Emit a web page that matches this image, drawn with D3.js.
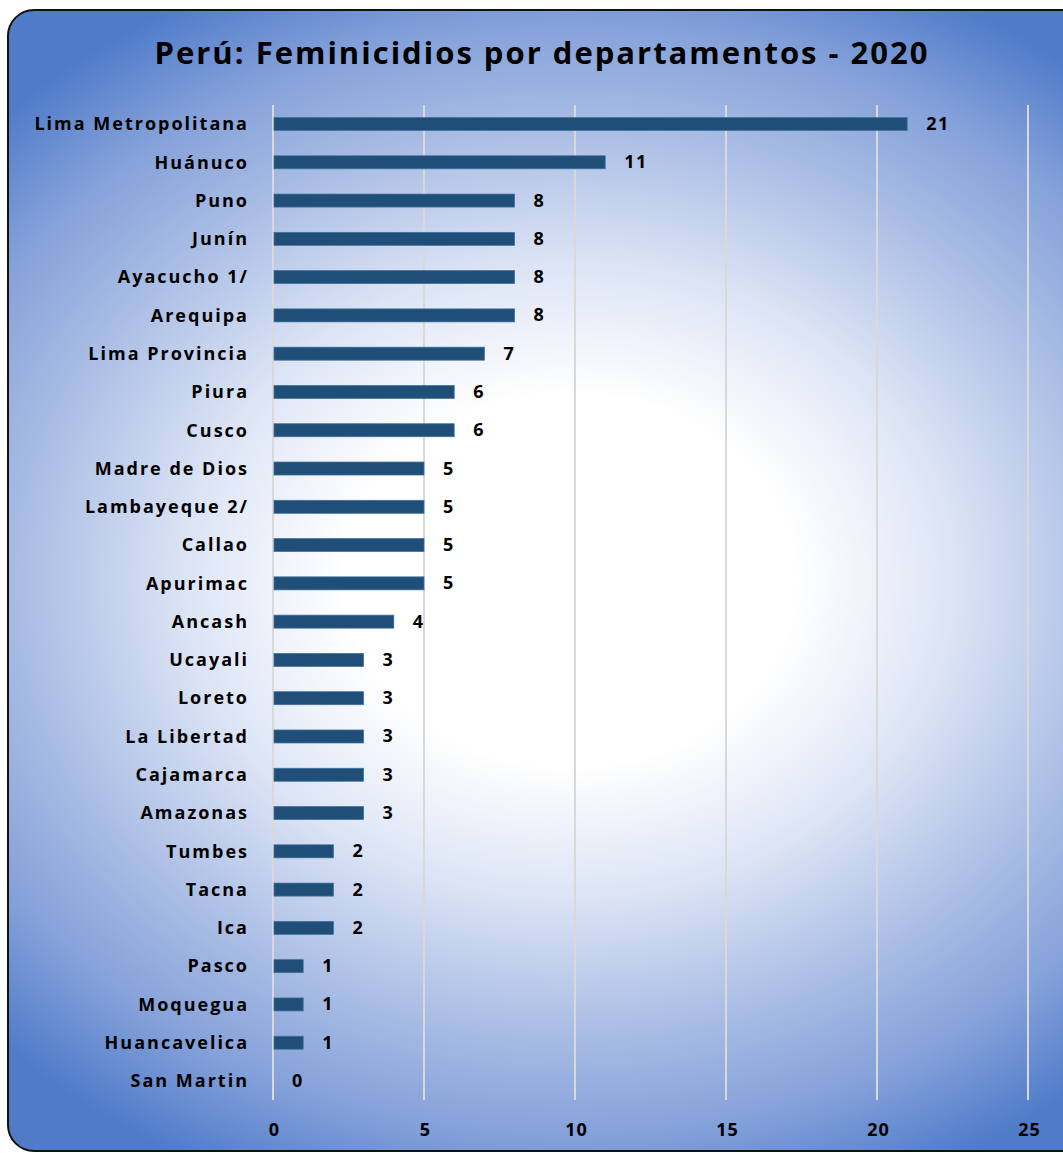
<!DOCTYPE html>
<html>
<head>
<meta charset="utf-8">
<script src="https://cdn.jsdelivr.net/npm/d3@7"></script>
<style>
  html, body { margin: 0; padding: 0; background: #fff; }
  svg { display: block; }
  text { font-family: "Open Sans", Lato, sans-serif; font-weight: 700; fill: #000; }
</style>
</head>
<body>
<svg></svg>
<script>
const width = 1063;
const height = 1153;

// Datos
const departamentos = [
  "Lima Metropolitana", "Huánuco", "Puno", "Junín", "Ayacucho 1/", "Arequipa",
  "Lima Provincia", "Piura", "Cusco", "Madre de Dios", "Lambayeque 2/", "Callao",
  "Apurimac", "Ancash", "Ucayali", "Loreto", "La Libertad", "Cajamarca",
  "Amazonas", "Tumbes", "Tacna", "Ica", "Pasco", "Moquegua", "Huancavelica", "San Martin"
];
const casos = [21, 11, 8, 8, 8, 8, 7, 6, 6, 5, 5, 5, 5, 4, 3, 3, 3, 3, 3, 2, 2, 2, 1, 1, 1, 0];
const ticks = [0, 5, 10, 15, 20, 25];
const titulo = "Perú: Feminicidios por departamentos - 2020";

const svg = d3.select("svg")
  .attr("width", width)
  .attr("height", height);

// Fondo degradado radial (elíptico)
const defs = svg.append("defs");
const grad = defs.append("radialGradient")
  .attr("id", "fondo")
  .attr("gradientUnits", "userSpaceOnUse")
  .attr("cx", 0).attr("cy", 0).attr("r", 1)
  .attr("gradientTransform", "translate(570,580) scale(800,660)");
grad.append("stop").attr("offset", "0%").attr("stop-color", "#ffffff");
grad.append("stop").attr("offset", "28%").attr("stop-color", "#ffffff");
grad.append("stop").attr("offset", "48%").attr("stop-color", "#dce4f5");
grad.append("stop").attr("offset", "69%").attr("stop-color", "#a8bce4");
grad.append("stop").attr("offset", "84%").attr("stop-color", "#86a2da");
grad.append("stop").attr("offset", "100%").attr("stop-color", "#4f7bc9");

svg.append("rect")
  .attr("x", 8).attr("y", 10)
  .attr("width", 1080).attr("height", 1141)
  .attr("rx", 26).attr("ry", 26)
  .attr("fill", "url(#fondo)")
  .attr("stroke", "#111")
  .attr("stroke-width", 2);

// Escalas
const x = d3.scaleLinear().domain([0, 25]).range([273, 1028]);
const y = d3.scalePoint().domain(departamentos).range([124, 1081]);
const barH = 13;

// Título
svg.append("text")
  .attr("x", 542).attr("y", 64)
  .attr("text-anchor", "middle")
  .style("font-size", "31px")
  .style("letter-spacing", "2px")
  .text(titulo);

// Líneas de cuadrícula
svg.append("g")
  .selectAll("line")
  .data(ticks)
  .join("line")
  .attr("x1", d => x(d)).attr("x2", d => x(d))
  .attr("y1", 105).attr("y2", 1100)
  .attr("stroke", "#d9d9d9")
  .attr("stroke-width", 2);

// Eje x
const xAxis = d3.axisBottom(x).tickValues(ticks).tickSize(0).tickPadding(0);
const gx = svg.append("g")
  .attr("transform", "translate(1,1123)")
  .call(xAxis);
gx.select(".domain").remove();
gx.selectAll("text")
  .style("font-size", "18px")
  .style("font-family", "'Open Sans', Lato, sans-serif")
  .style("font-weight", 700)
  .style("letter-spacing", "1px")
  .attr("fill", "#000");

// Eje y (etiquetas)
const yAxis = d3.axisLeft(y).tickSize(0).tickPadding(0);
const gy = svg.append("g")
  .attr("transform", "translate(249,0)")
  .call(yAxis);
gy.select(".domain").remove();
gy.selectAll("text")
  .style("font-size", "18px")
  .style("font-family", "'Open Sans', Lato, sans-serif")
  .style("font-weight", 700)
  .style("letter-spacing", "2px")
  .attr("fill", "#000");

const datos = departamentos.map((d, i) => ({ nombre: d, valor: casos[i] }));

// Barras
svg.append("g")
  .selectAll("rect")
  .data(datos)
  .join("rect")
  .attr("x", x(0) + 1)
  .attr("y", d => y(d.nombre) - barH / 2)
  .attr("width", d => Math.max(0, x(d.valor) - x(0) - 1))
  .attr("height", barH)
  .attr("fill", "#1f4e79")
  .attr("stroke", "#41719c")
  .attr("stroke-width", d => d.valor > 0 ? 0.75 : 0);

// Etiquetas de valor
svg.append("g")
  .selectAll("text")
  .data(datos)
  .join("text")
  .attr("x", d => x(d.valor) + 19)
  .attr("y", d => y(d.nombre) + 6)
  .style("font-size", "18px")
  .style("letter-spacing", "1.5px")
  .text(d => d.valor);
</script>
</body>
</html>
